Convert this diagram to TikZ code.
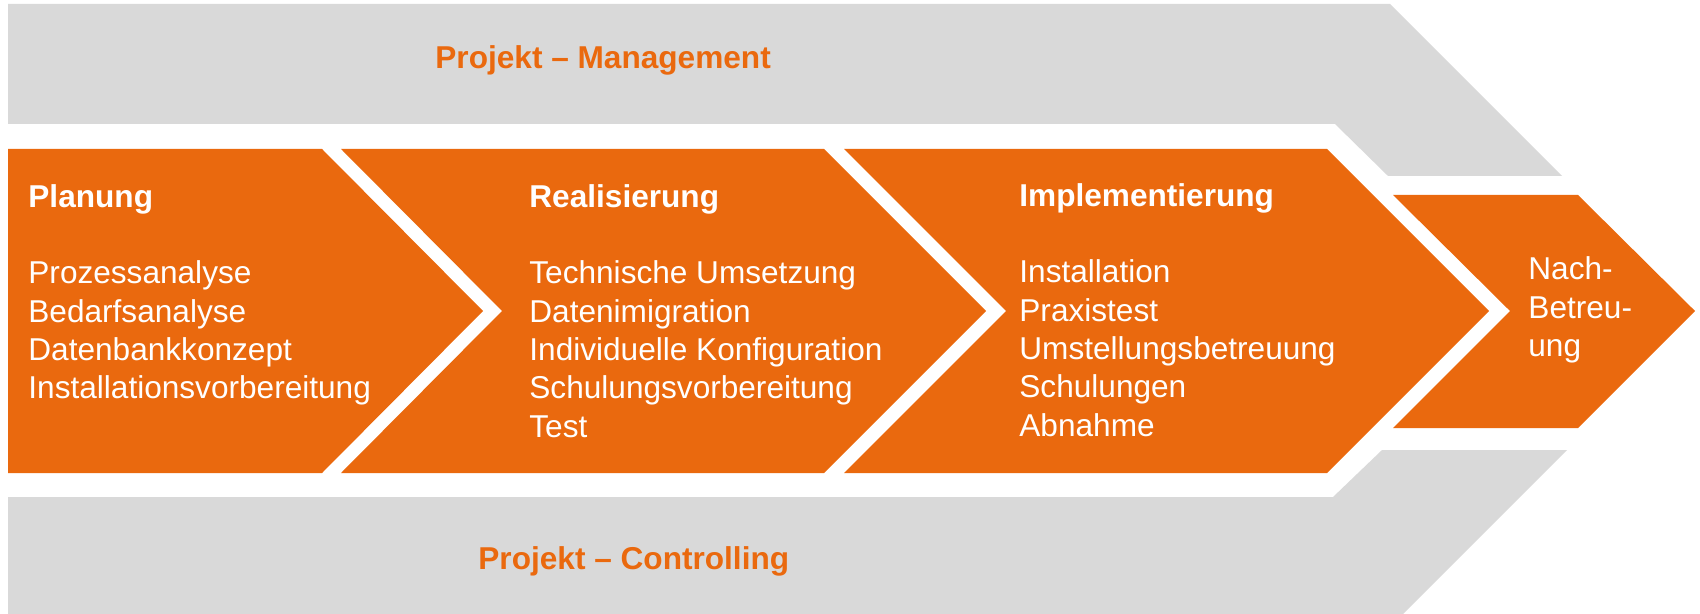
\documentclass[tikz,border=0pt]{standalone}
\usepackage{fontspec}
\setmainfont{Liberation Sans}
\definecolor{orng}{HTML}{EA690E}
\definecolor{lgray}{HTML}{D9D9D9}
\newcommand{\linesblock}[1]{\begin{tabular}[t]{@{}l@{}}#1\end{tabular}}
\tikzset{
  grayband/.style={fill=lgray, draw=none},
  phase/.style={fill=orng, draw=none},
  bandtitle/.style={anchor=base west, inner sep=0pt, text=orng, font=\fontsize{15.8}{19.15}\selectfont\bfseries},
  phasetitle/.style={anchor=base west, inner sep=0pt, text=white, font=\fontsize{15.8}{19.15}\selectfont\bfseries},
  phasetext/.style={anchor=base west, inner sep=0pt, text=white, font=\fontsize{15.8}{19.15}\selectfont}
}
\begin{document}
\begin{tikzpicture}[x=0.5pt,y=-0.5pt]
\useasboundingbox (0,0) rectangle (1700,614);
% gray bands
\fill[grayband] (8,4) -- (1390,4) -- (1562,176) -- (1388,176) -- (1335,124) -- (8,124) -- cycle;
\fill[grayband] (8,497) -- (1333,497) -- (1382,450) -- (1567,450) -- (1403,614) -- (8,614) -- cycle;
% orange chevrons
\fill[phase] (8,149) -- (322,149) -- (483,311) -- (322,473) -- (8,473) -- cycle;
\fill[phase] (341,149) -- (824,149) -- (986,311) -- (824,473) -- (341,473) -- (502,311) -- cycle;
\fill[phase] (844,149) -- (1327,149) -- (1489,311) -- (1327,473) -- (844,473) -- (1006,311) -- cycle;
\fill[phase] (1393,195) -- (1578,195) -- (1695,311) -- (1578,428) -- (1393,428) -- (1510,311) -- cycle;
% band titles
\node[bandtitle] (mgmt) at (435,69) {Projekt – Management};
\node[bandtitle] (ctrl) at (478,569) {Projekt – Controlling};
% phase titles
\node[phasetitle] (plan) at (28,208) {Planung};
\node[phasetitle] (real) at (529,208) {Realisierung};
\node[phasetitle] (impl) at (1019,207) {Implementierung};
% phase lists
\node[phasetext] (planl) at (28,284) {\linesblock{Prozessanalyse\\Bedarfsanalyse\\Datenbankkonzept\\Installationsvorbereitung}};
\node[phasetext] (reall) at (529,284) {\linesblock{Technische Umsetzung\\Datenimigration\\Individuelle Konfiguration\\Schulungsvorbereitung\\Test}};
\node[phasetext] (impll) at (1019,283) {\linesblock{Installation\\Praxistest\\Umstellungsbetreuung\\Schulungen\\Abnahme}};
\node[phasetext] (nach) at (1528,280) {\linesblock{Nach-\\Betreu-\\ung}};
\end{tikzpicture}
\end{document}
